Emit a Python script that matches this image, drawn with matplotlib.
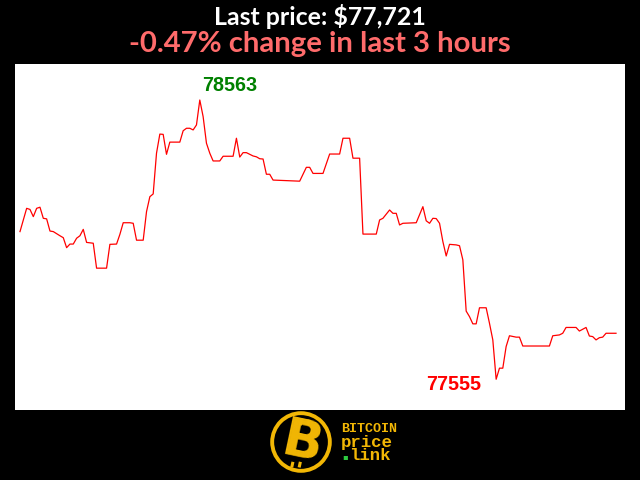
import matplotlib
matplotlib.use("Agg")
import matplotlib.pyplot as plt
from matplotlib.patches import Circle

# ---- data (minute index within last 3 hours, price in USD) ----
minutes = [0, 2, 3, 4, 5, 6, 7, 8, 9, 10, 12, 13, 14, 15, 16, 17, 18, 19, 20, 22,
           23, 26, 27, 29, 30, 31, 33, 34, 35, 37, 38, 39, 40, 41, 42, 43, 44, 45, 48, 49,
           50, 51, 52, 53, 54, 55, 56, 57, 58, 60, 61, 64, 65, 66, 67, 68, 70, 71, 72, 73,
           74, 75, 76, 80, 84, 86, 87, 88, 91, 93, 96, 97, 99, 100, 102, 103, 107, 108, 109, 111,
           112, 113, 114, 115, 119, 121, 122, 123, 124, 125, 126, 127, 128, 129, 131, 132, 133, 134, 135, 136,
           137, 138, 140, 141, 142, 143, 144, 145, 146, 147, 149, 150, 151, 159, 160, 162, 163, 164, 167, 168,
           170, 171, 172, 173, 174, 175, 176, 179]
prices = [78088, 78172, 78168, 78142, 78172, 78176, 78136, 78134, 78090, 78088, 78073, 78066, 78030, 78043, 78043, 78064, 78073, 78096, 78049, 78046,
          77956, 77956, 78042, 78043, 78078, 78120, 78120, 78118, 78057, 78057, 78160, 78214, 78224, 78371, 78440, 78439, 78367, 78411, 78411, 78452,
          78461, 78461, 78455, 78473, 78563, 78503, 78407, 78371, 78343, 78343, 78360, 78360, 78425, 78357, 78373, 78373, 78361, 78358, 78351, 78350,
          78295, 78295, 78274, 78272, 78270, 78320, 78320, 78298, 78298, 78368, 78368, 78425, 78425, 78353, 78353, 78079, 78079, 78130, 78136, 78166,
          78154, 78154, 78112, 78118, 78120, 78178, 78127, 78118, 78136, 78135, 78118, 78052, 78000, 78042, 78040, 78037, 77986, 77801, 77781, 77755,
          77755, 77813, 77813, 77757, 77697, 77555, 77595, 77595, 77673, 77712, 77707, 77707, 77675, 77675, 77712, 77715, 77721, 77742, 77742, 77729,
          77742, 77711, 77709, 77697, 77705, 77707, 77721, 77721]

title_line1 = "Last price: $77,721"
title_line2 = "-0.47% change in last 3 hours"

GOLD = "#f2b705"

fig = plt.figure(figsize=(6.4, 4.8), dpi=100, facecolor="black")
ax = fig.add_axes([15 / 640, 70 / 480, 610 / 640, 346 / 480])
ax.set_facecolor("white")
ax.plot(minutes, prices, color="red", lw=0.9)
ax.set_xlim(-1.5, 181.7)
ax.set_ylim(77444, 78693)
ax.set_xticks([])
ax.set_yticks([])
for s in ax.spines.values():
    s.set_visible(False)

imax = prices.index(max(prices))
imin = prices.index(min(prices))
ax.annotate(str(prices[imax]), xy=(minutes[imax], prices[imax]), xytext=(2, 9),
            textcoords="offset pixels", ha="left", va="baseline",
            color="green", fontsize=14.2, fontweight="bold", family="Liberation Sans")
ax.annotate(str(prices[imin]), xy=(minutes[imin], prices[imin]), xytext=(-15, -11),
            textcoords="offset pixels", ha="right", va="baseline",
            color="red", fontsize=14.2, fontweight="bold", family="Liberation Sans")

renderer = fig.canvas.get_renderer()


def fitted_text(y_px, s, color, size, width_px):
    t = fig.text(0.5, 1 - y_px / 480, s, ha="center", va="baseline", color=color,
                 fontsize=size, fontweight="bold", family=["Lato", "DejaVu Sans"])
    w = t.get_window_extent(renderer).width
    t.set_fontsize(size * width_px / w)
    return t


fitted_text(25, title_line1, "white", 18, 212)
fitted_text(51.7, title_line2, "#ff6b6b", 20, 382)

# ---- logo ----
lax = fig.add_axes([270 / 640, (480 - 473) / 480, 62 / 640, 62 / 480])
lax.set_xlim(-1, 1)
lax.set_ylim(-1, 1)
lax.set_aspect("equal")
lax.axis("off")
lax.add_patch(Circle((0, 0), 0.93, fill=False, edgecolor=GOLD, lw=2.8))
lax.text(0.04, -0.04, "B", ha="center", va="center", color=GOLD, fontsize=38,
         fontweight="bold", rotation=-12, family="DejaVu Sans")
for xx in (-0.1, 0.14):
    lax.plot([xx + 0.08, xx + 0.12], [0.54, 0.72], color=GOLD, lw=2.2, solid_capstyle="butt")
    lax.plot([xx - 0.16, xx - 0.2], [-0.64, -0.82], color=GOLD, lw=2.2, solid_capstyle="butt")

mono = ["Liberation Mono", "DejaVu Sans Mono"]
fig.text(341 / 640, 1 - 432.5 / 480, "BITCOIN", ha="left", va="baseline", color=GOLD,
         fontsize=9.6, fontweight="bold", family=mono)
fig.text(341 / 640, 1 - 446.5 / 480, "price", ha="left", va="baseline", color=GOLD,
         fontsize=12.5, fontweight="bold", family=mono)
fig.text(349 / 640, 1 - 460 / 480, "link", ha="left", va="baseline", color=GOLD,
         fontsize=12.5, fontweight="bold", family=mono)
fig.text(345 / 640, 1 - 456.5 / 480, "\u25aa", ha="center", va="center", color="#2ecc40",
         fontsize=6, family="DejaVu Sans")

fig.savefig("out.png", dpi=100, facecolor="black")
